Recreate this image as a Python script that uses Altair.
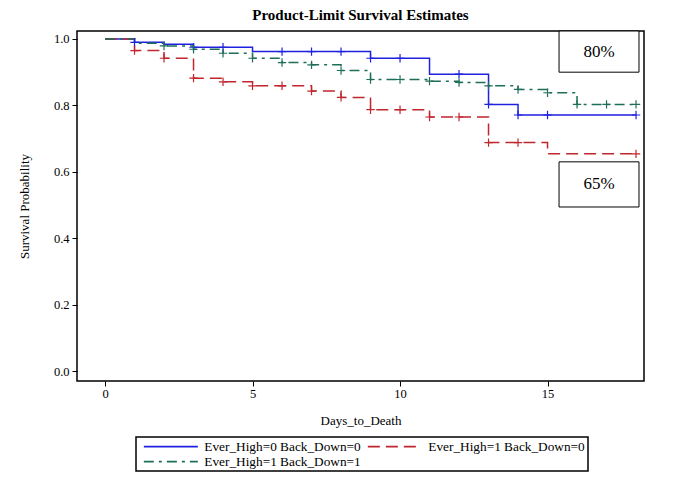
import altair as alt
import pandas as pd

# ---- data ----
groups = ["Ever_High=0 Back_Down=0", "Ever_High=1 Back_Down=0", "Ever_High=1 Back_Down=1"]
colors = ["#2020e0", "#c0262d", "#1f6e5a"]
dashes = [[1, 0], [12, 6], [10, 5, 3, 5]]

blue_t = [0, 1, 2, 3, 5, 9, 11, 13, 14, 18]
blue_s = [1.0, 0.990, 0.984, 0.975, 0.962, 0.942, 0.894, 0.803, 0.771, 0.771]
blue_cens = [1, 3, 4, 6, 7, 8, 9, 10, 12, 13, 14, 15, 18]

red_t = [0, 1, 2, 3, 4, 5, 7, 8, 9, 11, 13, 15, 18]
red_s = [1.0, 0.965, 0.942, 0.882, 0.871, 0.859, 0.843, 0.824, 0.787, 0.765, 0.688, 0.654, 0.654]
red_cens = [1, 2, 3, 4, 5, 6, 7, 8, 9, 10, 11, 12, 13, 14, 18]

green_t = [0, 1, 2, 3, 4, 5, 6, 7, 8, 9, 11, 12, 13, 14, 15, 16, 18]
green_s = [1.0, 0.987, 0.979, 0.969, 0.957, 0.942, 0.929, 0.922, 0.905, 0.878,
           0.873, 0.869, 0.859, 0.848, 0.838, 0.803, 0.803]
green_cens = [2, 3, 4, 5, 6, 7, 8, 9, 10, 11, 12, 13, 14, 15, 16, 17, 18]

ann_text = ["80%", "65%"]
ann_x1 = [15.39, 15.39]
ann_x2 = [18.1, 18.1]
ann_y1 = [1.024, 0.630]
ann_y2 = [0.900, 0.494]
ann_tx = [16.75, 16.75]
ann_ty = [0.962, 0.562]

x_ticks = [0, 5, 10, 15]
y_ticks = [0.0, 0.2, 0.4, 0.6, 0.8, 1.0]

# ---- tables ----
series = [(groups[0], blue_t, blue_s, blue_cens),
          (groups[1], red_t, red_s, red_cens),
          (groups[2], green_t, green_s, green_cens)]

line_rows, cens_rows = [], []
for g, ts, ss, cs in series:
    for t, s in zip(ts, ss):
        line_rows.append({"grp": g, "t": t, "s": s})
    for c in cs:
        # step-function value at censoring time (value after any drop at that time)
        val = [s for t, s in zip(ts, ss) if t <= c][-1]
        cens_rows.append({"grp": g, "t": c, "s": val})

lines_df = pd.DataFrame(line_rows)
cens_df = pd.DataFrame(cens_rows)
ann_df = pd.DataFrame({"text": ann_text, "x1": ann_x1, "x2": ann_x2,
                       "y1": ann_y1, "y2": ann_y2, "tx": ann_tx, "ty": ann_ty})

FONT = "Liberation Serif"

xscale = alt.Scale(domain=[-0.95, 18.27], nice=False, zero=False)
yscale = alt.Scale(domain=[-0.03, 1.024], nice=False, zero=False)

xaxis = alt.Axis(values=x_ticks, title="Days_to_Death", grid=False, domain=False,
                 tickSize=5, labelPadding=1, titlePadding=15, format="d")
yaxis = alt.Axis(values=y_ticks, title="Survival Probability", grid=False, domain=False,
                 tickSize=5, labelPadding=3, titlePadding=22, format=".1f")

lines = alt.Chart(lines_df).mark_line(interpolate="step-after", strokeWidth=1.5).encode(
    x=alt.X("t:Q", scale=xscale, axis=xaxis),
    y=alt.Y("s:Q", scale=yscale, axis=yaxis),
    color=alt.Color("grp:N", scale=alt.Scale(domain=groups, range=colors),
                    legend=alt.Legend(title=None)),
    strokeDash=alt.StrokeDash("grp:N", scale=alt.Scale(domain=groups, range=dashes),
                              legend=alt.Legend(title=None)),
)

cens_layers = []
for g, col in zip(groups, colors):
    cens_layers.append(
        alt.Chart(cens_df[cens_df["grp"] == g]).mark_point(
            shape="M-1,0H1M0,-1V1", filled=False, size=70, strokeWidth=1.2,
            opacity=1, color=col
        ).encode(
            x=alt.X("t:Q", scale=xscale),
            y=alt.Y("s:Q", scale=yscale),
        )
    )

boxes = alt.Chart(ann_df).mark_rect(fill="white", stroke="black", strokeWidth=1).encode(
    x=alt.X("x1:Q", scale=xscale), x2="x2:Q",
    y=alt.Y("y1:Q", scale=yscale), y2="y2:Q",
)

texts = alt.Chart(ann_df).mark_text(font=FONT, fontSize=17, color="black").encode(
    x=alt.X("tx:Q", scale=xscale),
    y=alt.Y("ty:Q", scale=yscale),
    text="text:N",
)

chart = alt.layer(lines, *cens_layers, boxes, texts).properties(
    width=567, height=350,
    title=alt.TitleParams("Product-Limit Survival Estimates", font=FONT, fontSize=15,
                          fontWeight="bold", anchor="middle", offset=8, color="black"),
    autosize=alt.AutoSizeParams(type="none"),
    padding={"left": 69, "top": 23, "right": 30, "bottom": 100},
).configure_view(
    stroke="black", strokeWidth=1.5
).configure_axis(
    labelFont=FONT, labelFontSize=12.5, labelColor="black",
    titleFont=FONT, titleFontSize=13, titleFontWeight="normal", titleColor="black",
    tickColor="black", tickWidth=1,
).configure_legend(
    orient="none", legendX=59, legendY=406, columns=2, direction="horizontal",
    strokeColor="black", strokeWidth=1.5, padding=3, fillColor="white",
    symbolType="M-0.6,0H17.4", symbolSize=36, symbolStrokeWidth=1.6,
    labelFont=FONT, labelFontSize=13.3, labelColor="black", labelLimit=400,
    labelOffset=52, columnPadding=2, rowPadding=1, symbolOffset=0,
)

chart.save("out.html", embed_options={"renderer": "svg", "actions": False})
